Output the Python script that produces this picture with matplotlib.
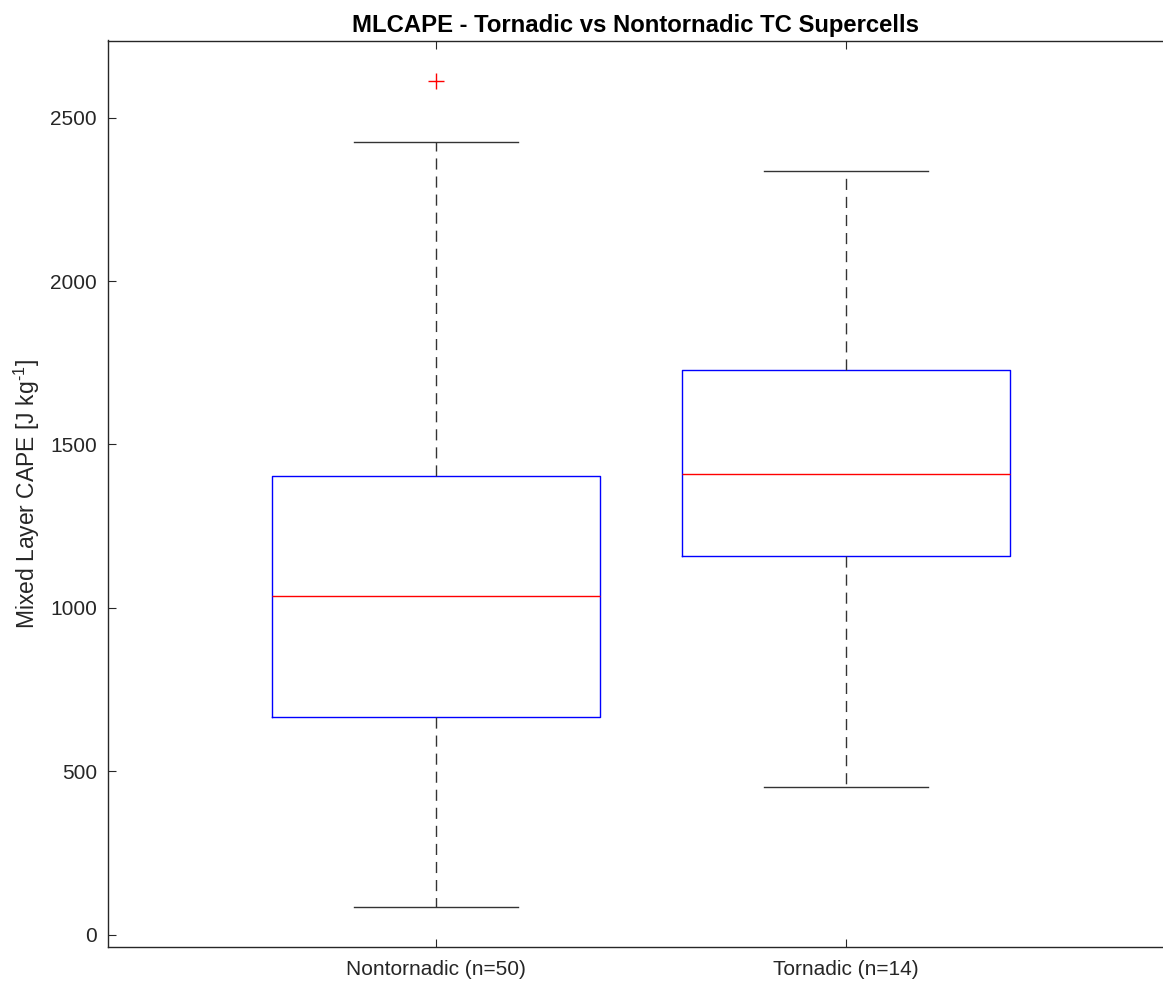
import matplotlib
matplotlib.use("Agg")
import matplotlib.pyplot as plt

plt.rcParams['font.family'] = ['Liberation Sans', 'DejaVu Sans']
plt.rcParams['mathtext.fontset'] = 'custom'
plt.rcParams['mathtext.rm'] = 'Liberation Sans'

# Box statistics for mixed-layer CAPE (J/kg)
groups = ["Nontornadic (n=50)", "Tornadic (n=14)"]
q1 = [666, 1157]
medians = [1037, 1408]
q3 = [1403, 1729]
whisker_low = [85, 451]
whisker_high = [2425, 2337]
outliers = [[2612], []]

stats = []
for i, name in enumerate(groups):
    stats.append(dict(label=name, q1=q1[i], med=medians[i], q3=q3[i],
                      whislo=whisker_low[i], whishi=whisker_high[i],
                      fliers=outliers[i]))

fig = plt.figure(figsize=(11.63, 9.84), dpi=100)
ax = fig.add_axes([108 / 1163, 1 - 947.3 / 984, 1 - 108 / 1163, (947.3 - 40.5) / 984])

axis_color = '#262626'
ax.bxp(stats, positions=[1, 2], widths=0.8, showfliers=True,
       boxprops=dict(color='#0000ff', linewidth=1.0),
       medianprops=dict(color='#ff0000', linewidth=1.0),
       whiskerprops=dict(color='#333333', linewidth=1.0, linestyle=(0, (8, 5))),
       capprops=dict(color='#333333', linewidth=1.0),
       capwidths=0.4,
       flierprops=dict(marker='+', markeredgecolor='#ff0000', markersize=11,
                       markeredgewidth=1.0, linestyle='none'))

ax.set_xlim(0.2, 2.773)
ax.set_ylim(-39, 2736)
ax.set_yticks([0, 500, 1000, 1500, 2000, 2500])
ax.set_xticks([1, 2])
ax.set_xticklabels(groups)

for side in ['left', 'bottom', 'top']:
    ax.spines[side].set_color(axis_color)
    ax.spines[side].set_linewidth(1.0)
ax.spines['right'].set_visible(False)

ax.tick_params(axis='both', direction='in', length=6, width=0.8, color=axis_color,
               labelcolor=axis_color, labelsize=15)
ax.tick_params(axis='x', top=True, pad=9)
ax.tick_params(axis='y', right=False, pad=8)

ax.set_ylabel(r'Mixed Layer CAPE [J kg$^{\text{-1}}$]', fontsize=16.5, color=axis_color,
              labelpad=6)
ax.set_title('MLCAPE - Tornadic vs Nontornadic TC Supercells', fontsize=17.2,
             fontweight='bold', color='black', pad=6)

fig.savefig('out.png', dpi=100)
